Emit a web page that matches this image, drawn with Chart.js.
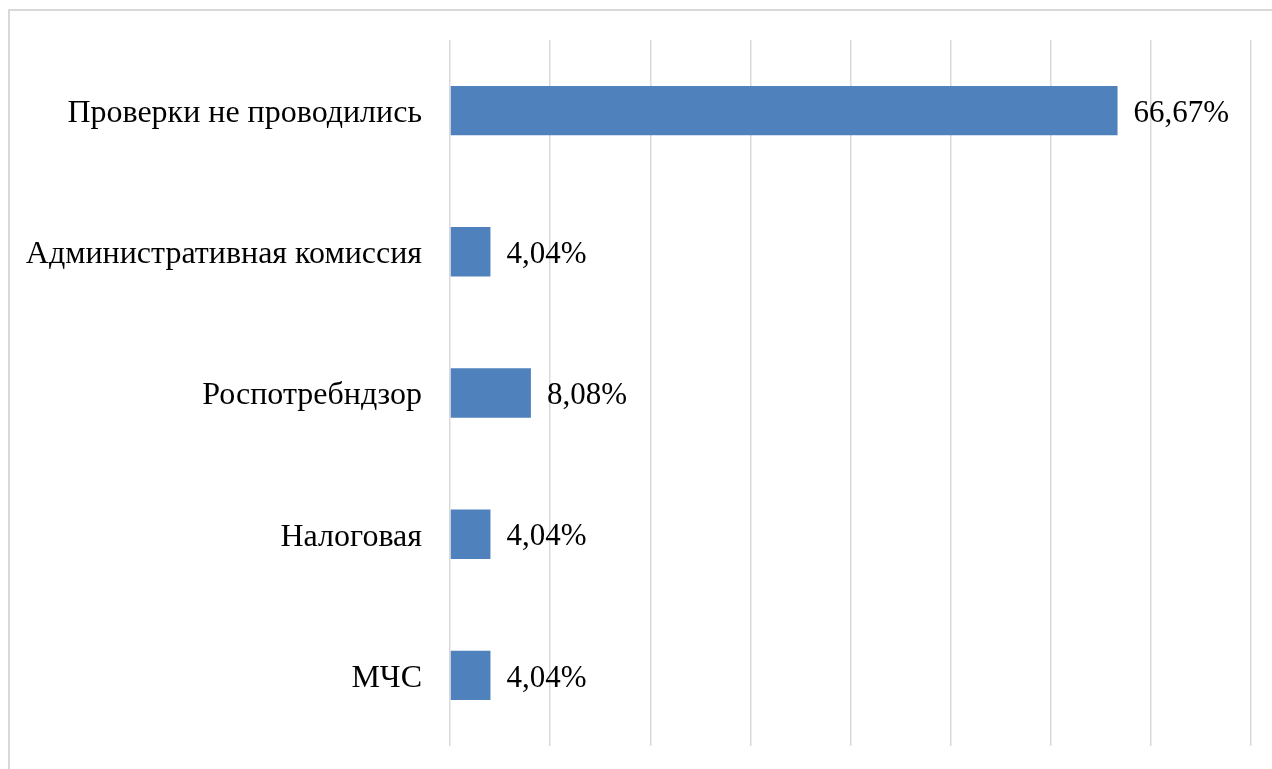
<!DOCTYPE html>
<html>
<head>
<meta charset="utf-8">
<script src="https://cdn.jsdelivr.net/npm/chart.js@4"></script>
<style>
  html, body { margin: 0; padding: 0; background: #fff; overflow: hidden; }
  #wrap { position: absolute; left: 0; top: 0; width: 1272px; height: 769px; }
</style>
</head>
<body>
<div id="wrap"><canvas id="chart" width="1272" height="769"></canvas></div>
<script>
// Chart data
const categories = ['Проверки не проводились', 'Административная комиссия', 'Роспотребндзор', 'Налоговая', 'МЧС'];
const percentValues = [66.67, 4.04, 8.08, 4.04, 4.04];
const axisMax = 80;
const axisStep = 10;

const fontFamily = '"Liberation Serif", "Times New Roman", serif';
const formatPercent = (v) => v.toFixed(2).replace('.', ',') + '%';

// Light frame around the whole chart, like the office chart border
const framePlugin = {
    id: 'frame',
    beforeDraw(chart) {
        const ctx = chart.ctx;
        ctx.save();
        ctx.strokeStyle = '#d9d9d9';
        ctx.lineWidth = 2;
        ctx.strokeRect(9, 10, 1300, 800);
        ctx.restore();
    }
};

// Value labels to the right of each bar
const valueLabelPlugin = {
    id: 'valueLabels',
    afterDatasetsDraw(chart) {
        const ctx = chart.ctx;
        const meta = chart.getDatasetMeta(0);
        ctx.save();
        ctx.font = '31px ' + fontFamily;
        ctx.fillStyle = '#000';
        ctx.textAlign = 'left';
        ctx.textBaseline = 'middle';
        meta.data.forEach((bar, i) => {
            ctx.fillText(formatPercent(percentValues[i]), bar.x + 16, bar.y + 3);
        });
        ctx.restore();
    }
};

new Chart(document.getElementById('chart'), {
    type: 'bar',
    data: {
        labels: categories,
        datasets: [{
            data: percentValues,
            backgroundColor: '#4f81bd',
            borderWidth: 0,
            categoryPercentage: 1,
            barPercentage: 0.35
        }]
    },
    options: {
        indexAxis: 'y',
        responsive: false,
        animation: false,
        layout: { padding: { top: 40, bottom: 23, right: 21, left: 0 } },
        plugins: { legend: { display: false }, tooltip: { enabled: false } },
        scales: {
            x: {
                min: 0,
                max: axisMax,
                ticks: { display: false, stepSize: axisStep },
                grid: { color: '#d9d9d9', lineWidth: 1.5, drawTicks: false },
                border: { display: false },
                afterFit(scale) { scale.height = 0; }
            },
            y: {
                grid: { display: false },
                border: { display: false },
                ticks: { color: '#000', padding: 20, labelOffset: 3, font: { family: fontFamily, size: 32 } },
                afterFit(scale) {
                    scale.width = 450;
                    scale.paddingTop = 0;
                    scale.paddingBottom = 0;
                }
            }
        }
    },
    plugins: [framePlugin, valueLabelPlugin]
});
</script>
</body>
</html>
